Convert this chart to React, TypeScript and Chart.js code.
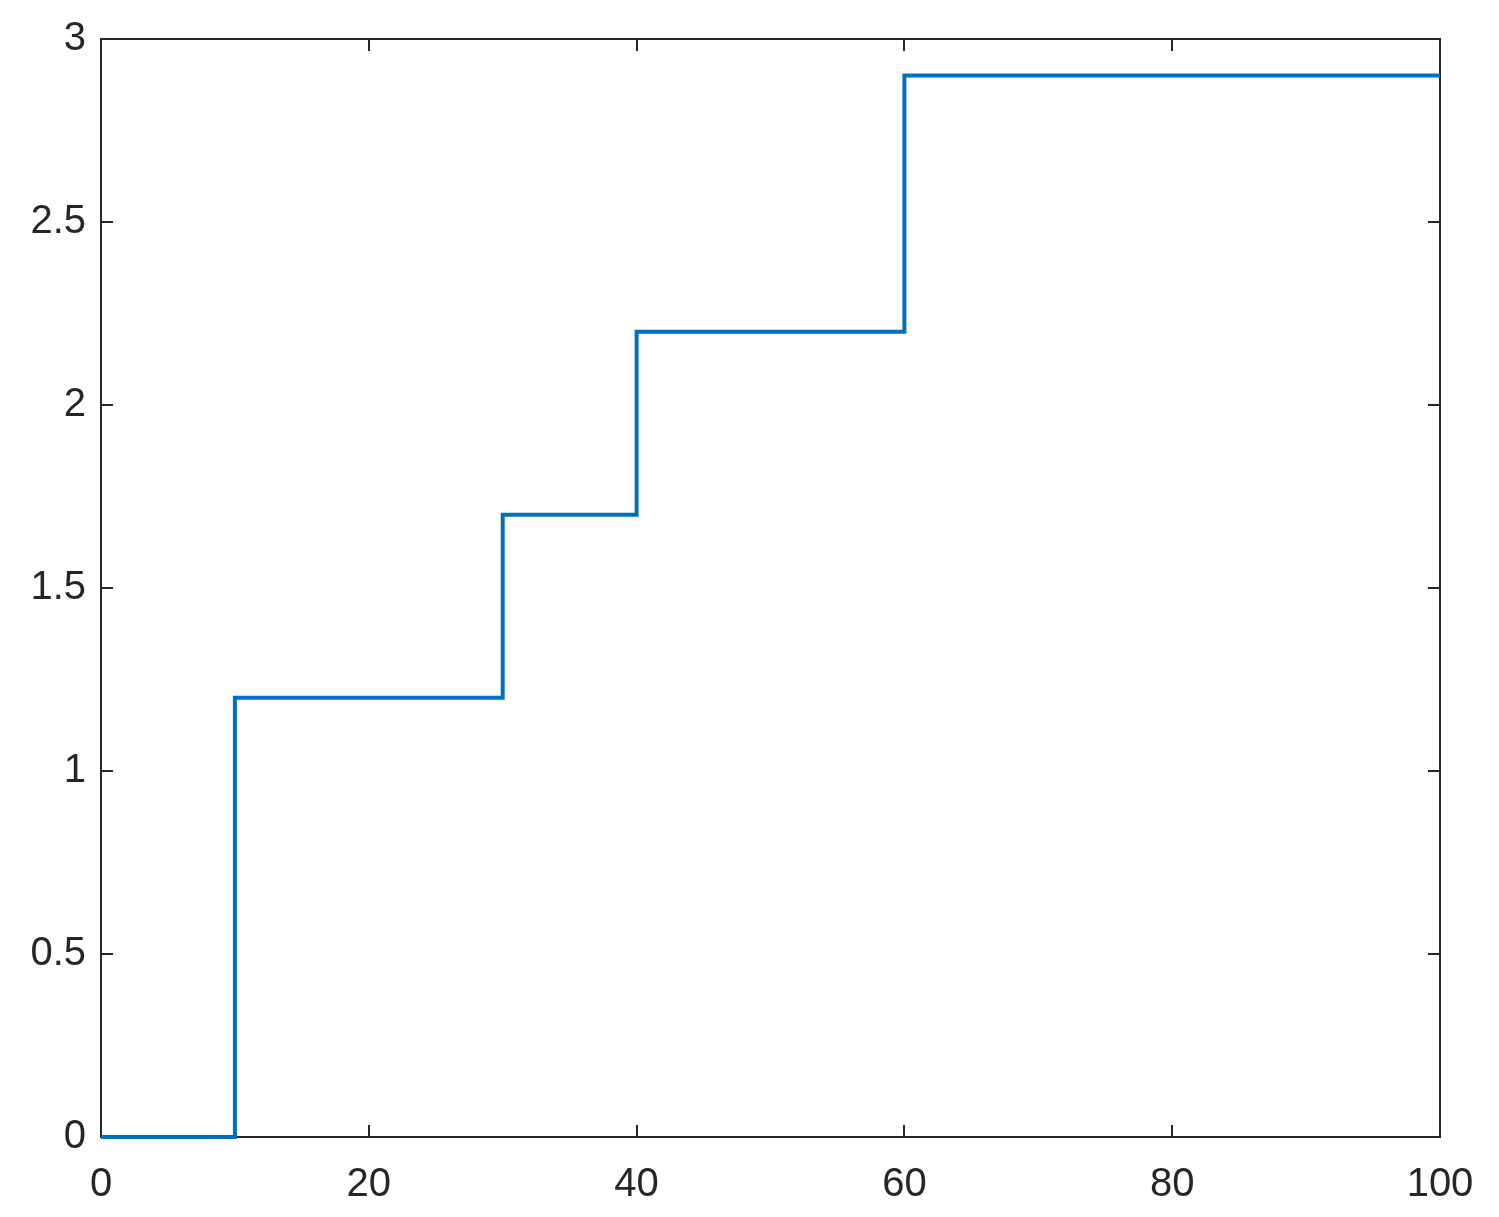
import React, { useEffect, useRef } from "react";
import { Chart, registerables } from "chart.js";

Chart.register(...registerables);

const stepX = [0, 10, 30, 40, 60, 100];
const stepY = [0, 1.2, 1.7, 2.2, 2.9, 2.9];
const xTicks = [0, 20, 40, 60, 80, 100];
const yTicks = [0, 0.5, 1, 1.5, 2, 2.5, 3];

const framePlugin = {
  id: "frame",
  beforeDatasetsDraw(chart: any) {
    const { ctx, chartArea } = chart;
    const { left, right, top, bottom } = chartArea;
    const xs = chart.scales.x;
    const ys = chart.scales.y;
    const tl = 12;
    ctx.save();
    ctx.strokeStyle = "#262626";
    ctx.lineWidth = 2;
    ctx.beginPath();
    for (const v of xTicks) {
      const px = Math.round(xs.getPixelForValue(v));
      ctx.moveTo(px, bottom);
      ctx.lineTo(px, bottom - tl);
      ctx.moveTo(px, top);
      ctx.lineTo(px, top + tl);
    }
    for (const v of yTicks) {
      const py = Math.round(ys.getPixelForValue(v));
      ctx.moveTo(left, py);
      ctx.lineTo(left + tl, py);
      ctx.moveTo(right, py);
      ctx.lineTo(right - tl, py);
    }
    ctx.stroke();
    ctx.strokeRect(left, top, right - left, bottom - top);
    ctx.restore();
  },
};

export default function App() {
  const ref = useRef<HTMLCanvasElement | null>(null);
  useEffect(() => {
    if (!ref.current) return;
    const font = { family: "'Liberation Sans', Arial, sans-serif", size: 40 };
    const chart = new Chart(ref.current, {
      type: "line",
      data: {
        datasets: [
          {
            data: stepX.map((x, i) => ({ x, y: stepY[i] })),
            borderColor: "#0072BD",
            borderWidth: 4,
            pointRadius: 0,
            stepped: "before",
            fill: false,
            clip: false,
          },
        ],
      },
      options: {
        animation: false,
        responsive: false,
        maintainAspectRatio: false,
        layout: { padding: { top: 39, right: 59, left: 0, bottom: 0 } },
        plugins: { legend: { display: false }, tooltip: { enabled: false } },
        scales: {
          x: {
            type: "linear",
            min: 0,
            max: 100,
            afterBuildTicks: (s: any) => {
              s.ticks = xTicks.map((v) => ({ value: v }));
            },
            afterFit: (s: any) => {
              s.height = 1217 - 1137;
            },
            grid: { display: false, drawTicks: false },
            border: { display: false },
            ticks: { color: "#262626", font, padding: 24, maxRotation: 0, callback: (v: any) => String(v) },
          },
          y: {
            type: "linear",
            min: 0,
            max: 3,
            afterBuildTicks: (s: any) => {
              s.ticks = yTicks.map((v) => ({ value: v }));
            },
            afterFit: (s: any) => {
              s.width = 101;
            },
            grid: { display: false, drawTicks: false },
            border: { display: false },
            ticks: { color: "#262626", font, padding: 15, callback: (v: any) => String(v) },
          },
        },
      },
      plugins: [framePlugin],
    } as any);
    return () => chart.destroy();
  }, []);
  return (
    <div style={{ position: "fixed", left: 0, top: 0, width: 1499, height: 1217, background: "#fff" }}>
      <canvas ref={ref} width={1499} height={1217} style={{ display: "block" }} />
    </div>
  );
}
